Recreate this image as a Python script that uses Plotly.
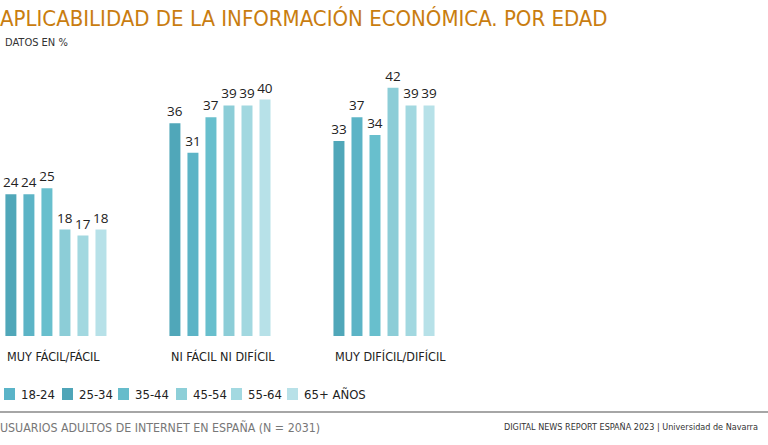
import plotly.graph_objects as go

categories = ["MUY FÁCIL/FÁCIL", "NI FÁCIL NI DIFÍCIL", "MUY DIFÍCIL/DIFÍCIL"]
series_names = ["18-24", "25-34", "35-44", "45-54", "55-64", "65+ AÑOS"]
values_18_24 = [24, 36, 33]
values_25_34 = [24, 31, 37]
values_35_44 = [25, 37, 34]
values_45_54 = [18, 39, 42]
values_55_64 = [17, 39, 39]
values_65 = [18, 40, 39]
series_values = [values_18_24, values_25_34, values_35_44, values_45_54, values_55_64, values_65]

colors = ["#50a7b9", "#5cb4c6", "#68bfcd", "#8ccdd7", "#a2d8e0", "#b7e1e8"]
legend_colors = ["#5ab4c8", "#4fa5b8", "#66bccb", "#8dcfd8", "#a3d9e1", "#b8e1e8"]
legend_x = [4, 62, 118, 176, 231, 287]

COND = "Liberation Sans Narrow, DejaVu Sans Condensed, Arial Narrow, sans-serif"
W, H = 768, 445
T, B = 40, 109


def py(ypx):
    return (H - B - ypx) / (H - T - B)


def px(xpx):
    return xpx / W


fig = go.Figure()
x_idx = list(range(len(categories)))
for name, vals, col in zip(series_names, series_values, colors):
    fig.add_trace(go.Bar(
        x=x_idx, y=vals, name=name, marker=dict(color=col, line=dict(width=0)),
        text=vals, texttemplate="%{text}", textposition="outside", constraintext="none",
        textfont=dict(size=13.5, color="#222", family="Open Sans, sans-serif"),
        cliponaxis=False, showlegend=False, hoverinfo="skip",
    ))

# category labels
for i, c in enumerate(categories):
    fig.add_annotation(x=i - 0.312, y=0, xref="x", yref="paper", yshift=-20,
                       text=c, showarrow=False, xanchor="left", yanchor="middle",
                       font=dict(size=12.5, color="#222", family=COND))

# title and subtitle
fig.add_annotation(x=0, y=py(18.5), xref="paper", yref="paper", xanchor="left", yanchor="middle",
                   xshift=-2,
                   text="APLICABILIDAD DE LA INFORMACIÓN ECONÓMICA. POR EDAD", showarrow=False,
                   font=dict(size=22, color="#c97d10", family=COND))
fig.add_annotation(x=px(3), y=py(43), xref="paper", yref="paper", xanchor="left", yanchor="middle",
                   text="DATOS EN %", showarrow=False,
                   font=dict(size=11, color="#333", family=COND))

# custom legend
shapes = []
for name, col, lx in zip(series_names, legend_colors, legend_x):
    shapes.append(dict(type="rect", xref="paper", yref="paper",
                       x0=px(lx), x1=px(lx + 11), y0=py(400), y1=py(388),
                       fillcolor=col, line=dict(width=0)))
    fig.add_annotation(x=px(lx + 15), y=py(394), xref="paper", yref="paper",
                       xanchor="left", yanchor="middle", text=name, showarrow=False,
                       font=dict(size=13, color="#222", family=COND))

shapes.append(dict(type="line", xref="paper", yref="paper", x0=0, x1=1,
                   y0=py(412), y1=py(412), line=dict(color="#888", width=1.5)))

fig.add_annotation(x=0, y=py(427), xref="paper", yref="paper", xanchor="left", yanchor="middle",
                   xshift=-2,
                   text="USUARIOS ADULTOS DE INTERNET EN ESPAÑA (N = 2031)", showarrow=False,
                   font=dict(size=12.3, color="#777", family=COND))
fig.add_annotation(x=px(760), y=py(427), xref="paper", yref="paper", xanchor="right", yanchor="middle",
                   text="DIGITAL NEWS REPORT ESPAÑA 2023 | Universidad de Navarra", showarrow=False,
                   font=dict(size=9.0, color="#333", family=COND))

fig.update_layout(
    width=W, height=H, margin=dict(l=0, r=0, t=T, b=B),
    paper_bgcolor="white", plot_bgcolor="white",
    barmode="group", bargap=0.341, bargroupgap=0.39,
    xaxis=dict(range=[-0.341, 4.341], showticklabels=False, showgrid=False, zeroline=False, showline=False),
    yaxis=dict(range=[0, 50.08], visible=False),
    shapes=shapes,
)

fig.write_html("out.html", config={"displayModeBar": False},
               post_script="document.body.style.margin='0';document.body.style.overflow='hidden';")
